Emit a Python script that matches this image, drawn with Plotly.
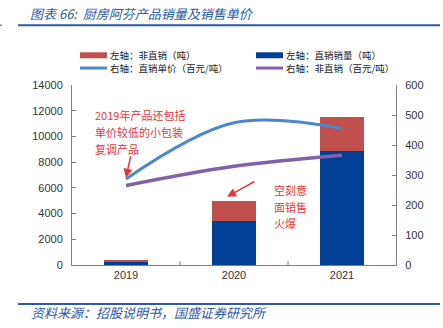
import plotly.graph_objects as go

# Data
years = ["2019", "2020", "2021"]
direct_volume = [260, 3400, 8900]        # 左轴：直销销量（吨）
nondirect_volume = [90, 1600, 2650]      # 左轴：非直销（吨）
direct_price = [287, 474, 455]           # 右轴：直销单价（百元/吨）
nondirect_price = [265, 329, 366]        # 右轴：非直销（百元/吨）

left_ticks = [0, 2000, 4000, 6000, 8000, 10000, 12000, 14000]
right_ticks = [0, 100, 200, 300, 400, 500, 600]

RED = "#C0504D"
NAVY = "#003F96"
SKY = "#4A87D0"
PURPLE = "#7F62A8"
NOTE_RED = "#E0393A"
TITLE_BLUE = "#2B5AA6"
CJK = "Noto Sans CJK SC"

W, H = 443, 328
ML, MR, MT, MB = 72, 47, 85, 62.5
PW, PH = W - ML - MR, H - MT - MB


def px(x):
    return (x - ML) / PW


def py(y):
    return (H - MB - y) / PH


xs = list(range(len(years)))

fig = go.Figure()
fig.add_trace(go.Bar(x=xs, y=direct_volume, marker=dict(color=NAVY, line=dict(width=0)),
                     width=0.4, showlegend=False))
fig.add_trace(go.Bar(x=xs, y=nondirect_volume, marker=dict(color=RED, line=dict(width=0)),
                     width=0.4, showlegend=False))
fig.add_trace(go.Scatter(x=xs, y=direct_price, yaxis="y2", mode="lines",
                         line=dict(color=SKY, width=3, shape="spline", smoothing=1.0),
                         showlegend=False))
fig.add_trace(go.Scatter(x=xs, y=nondirect_price, yaxis="y2", mode="lines",
                         line=dict(color=PURPLE, width=3.5, shape="spline", smoothing=1.0),
                         showlegend=False))

tick_font = dict(family="Liberation Sans, Arial, sans-serif", size=11, color="#333333")

shapes = []
annotations = []

# header and footer rules
for yy in (25, 304.5):
    shapes.append(dict(type="line", xref="paper", yref="paper",
                       x0=px(18), x1=px(440), y0=py(yy), y1=py(yy),
                       line=dict(color=TITLE_BLUE, width=2)))
shapes.append(dict(type="line", xref="paper", yref="paper",
                   x0=px(0), x1=px(2), y0=py(25), y1=py(25),
                   line=dict(color=TITLE_BLUE, width=1)))

annotations.append(dict(text="<i>图表 66:  厨房阿芬产品销量及销售单价</i>", xref="paper", yref="paper",
                        x=px(28), y=py(13), xanchor="left", yanchor="middle", showarrow=False,
                        font=dict(family=CJK, size=13, color=TITLE_BLUE)))
annotations.append(dict(text="<i>资料来源：招股说明书，国盛证券研究所</i>", xref="paper", yref="paper",
                        x=px(29), y=py(313.5), xanchor="left", yanchor="middle", showarrow=False,
                        font=dict(family=CJK, size=13, color=TITLE_BLUE)))

# legend
legend_items = [
    (80, 55.2, RED, 6, "左轴：非直销（吨）"),
    (256, 55.2, NAVY, 6, "左轴：直销销量（吨）"),
    (80, 68.0, SKY, 3, "右轴：直销单价（百元/吨）"),
    (256, 68.0, PURPLE, 3, "右轴：非直销（百元/吨）"),
]
for x0, yc, col, th, label in legend_items:
    shapes.append(dict(type="rect", xref="paper", yref="paper",
                       x0=px(x0), x1=px(x0 + 27), y0=py(yc + th / 2), y1=py(yc - th / 2),
                       fillcolor=col, line=dict(width=0)))
    annotations.append(dict(text=label, xref="paper", yref="paper", x=px(x0 + 28), y=py(yc),
                            xanchor="left", yanchor="middle", showarrow=False,
                            font=dict(family=CJK, size=9.5, color="#222222")))

# callouts
note1 = ["2019年产品还包括", "单价较低的小包装", "复调产品"]
for i, t in enumerate(note1):
    annotations.append(dict(text=t, xref="paper", yref="paper", x=px(93), y=py(115 + 17 * i),
                            xanchor="left", yanchor="middle", showarrow=False,
                            font=dict(family=CJK, size=11, color=NOTE_RED)))
note2 = ["空刻意", "面销售", "火爆"]
for i, t in enumerate(note2):
    annotations.append(dict(text=t, xref="paper", yref="paper", x=px(272), y=py(190.7 + 16.5 * i),
                            xanchor="left", yanchor="middle", showarrow=False,
                            font=dict(family=CJK, size=11, color=NOTE_RED)))

annotations.append(dict(text="", xref="paper", yref="paper", x=px(126), y=py(178),
                        ax=5, ay=-23, showarrow=True, arrowhead=2, arrowsize=1.2,
                        arrowwidth=1.5, arrowcolor=NOTE_RED))
annotations.append(dict(text="", xref="paper", yref="paper", x=px(227), y=py(197),
                        ax=29, ay=-16, showarrow=True, arrowhead=2, arrowsize=1.2,
                        arrowwidth=1.5, arrowcolor=NOTE_RED))

fig.update_layout(
    width=W, height=H,
    margin=dict(l=ML, r=MR, t=MT, b=MB, pad=0),
    paper_bgcolor="white", plot_bgcolor="white",
    barmode="stack", showlegend=False,
    xaxis=dict(range=[-0.5, 2.5], tickmode="array", tickvals=xs, ticktext=years,
               showgrid=False, zeroline=False, showline=True, linecolor="#7f7f7f", linewidth=1,
               ticks="", tickfont=tick_font, fixedrange=True),
    yaxis=dict(range=[0, 14000], tickmode="array", tickvals=left_ticks,
               ticktext=[str(v) for v in left_ticks], showgrid=False, zeroline=False,
               showline=True, linecolor="#7f7f7f", linewidth=1, ticks="inside", ticklen=4,
               tickcolor="#7f7f7f", tickfont=tick_font, ticklabelstandoff=6),
    yaxis2=dict(range=[0, 600], overlaying="y", side="right", tickmode="array",
                tickvals=right_ticks, ticktext=[str(v) for v in right_ticks], showgrid=False,
                zeroline=False, showline=True, linecolor="#7f7f7f", linewidth=1,
                ticks="inside", ticklen=4, tickcolor="#7f7f7f", tickfont=tick_font,
                ticklabelstandoff=6),
    shapes=shapes,
    annotations=annotations,
)

# category boundary ticks on the x axis
for b in (0.5, 1.5):
    fig.add_shape(type="line", xref="x", yref="paper", x0=b, x1=b, y0=0, y1=py(H - MB - 4),
                  line=dict(color="#7f7f7f", width=1))

fig.write_html("out.html")
